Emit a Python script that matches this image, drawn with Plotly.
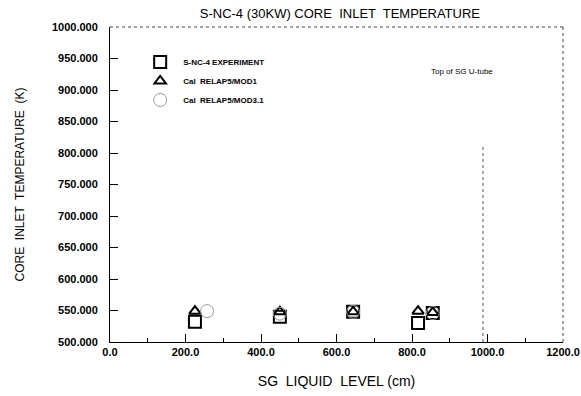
import plotly.graph_objects as go

# Data (SG liquid level in cm, core inlet temperature in K)
exp_x = [225, 450, 644, 816, 855]
exp_y = [532, 540, 548, 530, 546]
mod1_x = [225, 450, 644, 816, 855]
mod1_y = [549, 548, 548, 549, 547]
mod31_x = [257, 450, 644, 855]
mod31_y = [549, 545, 548, 546]

x_ticks = [0, 200, 400, 600, 800, 1000, 1200]
y_ticks = [500, 550, 600, 650, 700, 750, 800, 850, 900, 950, 1000]
utube_x = 988
utube_top = 810

FONT = "Liberation Sans, Arial, sans-serif"

fig = go.Figure()
fig.add_trace(go.Scatter(
    x=exp_x, y=exp_y, mode="markers", name="<b>S-NC-4 EXPERIMENT</b>",
    marker=dict(symbol="square-open", size=12, color="black", line=dict(width=2))))
fig.add_trace(go.Scatter(
    x=mod1_x, y=mod1_y, mode="markers", name="<b>Cal  RELAP5/MOD1</b>",
    marker=dict(symbol="triangle-up-open", size=10, color="black", line=dict(width=2))))
fig.add_trace(go.Scatter(
    x=mod31_x, y=mod31_y, mode="markers", name="<b>Cal  RELAP5/MOD3.1</b>",
    marker=dict(symbol="circle-open", size=13, color="#999999", line=dict(width=1))))

# Top of SG U-tube marker line
fig.add_trace(go.Scatter(
    x=[utube_x, utube_x], y=[500, utube_top], mode="lines", showlegend=False,
    line=dict(color="#555555", width=1, dash="dot"), hoverinfo="skip"))

fig.add_annotation(x=845, y=930, xref="x", yref="y", text="Top of SG U-tube",
                   showarrow=False, xanchor="left", yanchor="middle",
                   font=dict(family=FONT, size=8, color="black"))

# dotted top/right borders
fig.add_shape(type="line", xref="paper", yref="paper", x0=0, x1=1, y0=1, y1=1,
              line=dict(color="#444444", width=1, dash="dot"))
fig.add_shape(type="line", xref="paper", yref="paper", x0=1, x1=1, y0=0, y1=1,
              line=dict(color="#444444", width=1, dash="dot"))

fig.update_layout(
    width=581, height=396,
    margin=dict(l=110, r=18, t=27, b=54),
    paper_bgcolor="white", plot_bgcolor="white",
    font=dict(family=FONT, color="black"),
    title=dict(text="S-NC-4 (30KW) CORE  INLET  TEMPERATURE", x=0.585, xanchor="center",
               y=0.965, yanchor="middle", font=dict(family=FONT, size=13, color="black")),
    showlegend=True,
    legend=dict(x=0.06, y=0.935, xanchor="left", yanchor="top", bgcolor="rgba(0,0,0,0)",
                font=dict(family=FONT, size=8, color="black"), tracegroupgap=0,
                itemwidth=36),
    xaxis=dict(range=[0, 1200], tickvals=x_ticks, tickformat=".1f", automargin=False,
               showgrid=False, zeroline=False, showline=True, linecolor="black", linewidth=1,
               ticks="inside", ticklen=8, tickcolor="black",
               minor=dict(dtick=100, ticks="inside", ticklen=4, tickcolor="black"),
               tickfont=dict(family=FONT, size=11, color="black", weight="bold"),
               title=dict(text="SG  LIQUID  LEVEL (cm)", standoff=18,
                          font=dict(family=FONT, size=14, color="black"))),
    yaxis=dict(range=[500, 1000], tickvals=y_ticks, tickformat=".3f", automargin=False,
               showgrid=False, zeroline=False, showline=True, linecolor="black", linewidth=1,
               ticks="inside", ticklen=8, tickcolor="black", ticklabelstandoff=9,
               tickfont=dict(family=FONT, size=11, color="black", weight="bold"),
               title=dict(text="CORE  INLET  TEMPERATURE  (K)", standoff=24,
                          font=dict(family=FONT, size=12, color="black"))),
)

fig.write_html("out.html")
